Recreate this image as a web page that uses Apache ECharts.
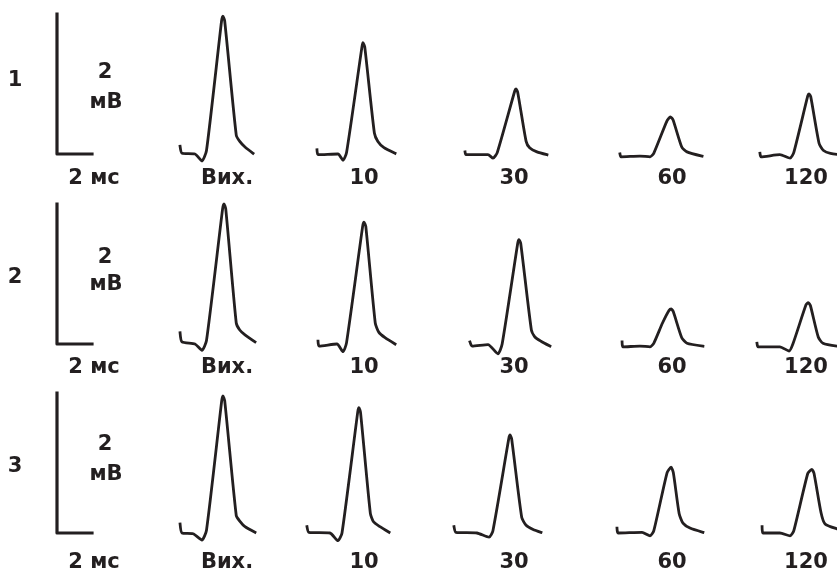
<!DOCTYPE html>
<html>
<head>
<meta charset="utf-8">
<script src="https://cdn.jsdelivr.net/npm/echarts@6/dist/echarts.min.js"></script>
<style>
  html, body { margin: 0; padding: 0; background: #fff; }
  #main { width: 837px; height: 573px; }
</style>
</head>
<body>
<div id="main"></div>
<script>
// підписи
var rowNames = ['1', '2', '3'];
var colNames = ['Вих.', '10', '30', '60', '120'];
var scaleV = '2';      // мВ
var scaleT = '2 мс';

// калібровка: 2 мс по горизонталі, 2 мВ по вертикалі  [мс, мВ]
var scaleBar = [[0, 2], [0, 0], [2, 0]];

// записи потенціалів, [час мс, амплітуда мВ]
// серія 1
var r1_vyh = [[0.29,0.11],[0.4,0.01],[1.14,0],[1.54,-0.1],[1.8,0.05],[2.66,1.9],[2.74,1.97],[2.84,1.9],[3.5,0.27],[3.7,0.18],[4.0,0.1],[4.46,0.01]];
var r1_10  = [[0.97,0.06],[1.03,-0.01],[2.17,0],[2.46,-0.09],[2.66,0.02],[3.54,1.53],[3.6,1.59],[3.7,1.53],[4.25,0.3],[4.45,0.18],[4.8,0.09],[5.43,0.01]];
var r1_30  = [[0.86,0.03],[0.91,-0.01],[2.17,-0.01],[2.46,-0.06],[2.7,0.02],[3.7,0.9],[3.77,0.93],[3.87,0.88],[4.35,0.18],[4.55,0.09],[4.97,0.03],[5.54,-0.01]];
var r1_60  = [[0.57,0],[0.63,-0.04],[1.71,-0.03],[2.29,-0.04],[2.5,0.01],[3.25,0.47],[3.45,0.53],[3.6,0.49],[4.1,0.1],[4.4,0.03],[5.26,-0.03]];
var r1_120 = [[0.57,0.01],[0.63,-0.04],[1.71,-0.01],[2.29,-0.06],[2.5,0.02],[3.3,0.83],[3.37,0.86],[3.47,0.82],[3.95,0.15],[4.2,0.05],[4.6,0.01],[5.71,-0.03]];
// серія 2
var r2_vyh = [[0.29,0.16],[0.4,0.03],[1.14,0],[1.54,-0.09],[1.8,0.05],[2.72,1.93],[2.8,2.0],[2.9,1.93],[3.5,0.3],[3.7,0.2],[4.0,0.13],[4.57,0.03]];
var r2_10  = [[1.03,0.04],[1.09,-0.03],[2.11,0],[2.46,-0.11],[2.66,0.02],[3.58,1.68],[3.66,1.74],[3.76,1.68],[4.3,0.3],[4.5,0.17],[4.86,0.09],[5.43,0]];
var r2_30  = [[1.14,0.03],[1.26,-0.03],[2.17,-0.01],[2.74,-0.14],[2.98,0],[3.87,1.44],[3.94,1.49],[4.04,1.44],[4.65,0.2],[4.85,0.1],[5.2,0.04],[5.71,-0.03]];
var r2_60  = [[0.69,0.03],[0.74,-0.04],[1.71,-0.03],[2.29,-0.04],[2.5,0.01],[3.0,0.3],[3.37,0.48],[3.5,0.5],[3.62,0.46],[4.1,0.09],[4.4,0.01],[5.31,-0.03]];
var r2_120 = [[0.4,0.01],[0.46,-0.04],[1.71,-0.04],[2.23,-0.1],[2.45,0],[3.2,0.56],[3.33,0.59],[3.45,0.55],[3.9,0.1],[4.17,0.01],[4.97,-0.03],[5.71,-0.04]];
// серія 3
var r3_vyh = [[0.29,0.13],[0.4,0],[1.03,-0.01],[1.54,-0.1],[1.8,0.04],[2.67,1.89],[2.74,1.96],[2.84,1.89],[3.5,0.25],[3.7,0.17],[4.0,0.09],[4.57,0.01]];
var r3_10  = [[0.4,0.09],[0.51,0.01],[1.71,0],[2.17,-0.11],[2.4,0],[3.3,1.73],[3.37,1.79],[3.46,1.72],[4.02,0.28],[4.2,0.16],[4.57,0.09],[5.09,0.01]];
var r3_30  = [[0.23,0.09],[0.34,0.01],[1.54,0],[2.23,-0.06],[2.45,0.03],[3.36,1.35],[3.43,1.4],[3.52,1.35],[4.1,0.22],[4.35,0.11],[4.75,0.05],[5.2,0.01]];
var r3_60  = [[0.4,0.07],[0.46,0],[1.83,0.01],[2.29,-0.04],[2.5,0.03],[3.26,0.86],[3.49,0.94],[3.62,0.86],[3.95,0.28],[4.17,0.14],[4.57,0.07],[5.31,0.01]];
var r3_120 = [[0.69,0.09],[0.74,0],[1.71,0],[2.29,-0.04],[2.5,0.03],[3.3,0.85],[3.54,0.91],[3.66,0.85],[4.06,0.29],[4.29,0.13],[4.97,0.06],[5.71,0.01]];

var traces = [
    [r1_vyh, r1_10, r1_30, r1_60, r1_120],
    [r2_vyh, r2_10, r2_30, r2_60, r2_120],
    [r3_vyh, r3_10, r3_30, r3_60, r3_120]
];

var ink = '#231f20';
var labelFont = 'bold 21px "DejaVu Sans"';
// 17.5 px на 1 мс, 70 px на 1 мВ
var tMax = 6, panelW = 105, panelH = 175;     // 0..6 мс, -0.3..2.2 мВ
var colLeft = [175, 300, 450, 610, 750];
var baseY = [154, 344, 533];
var labelY = [179, 368, 563];
var labelX = [227, 364, 514, 672, 806];

var grids = [], xAxes = [], yAxes = [], series = [], texts = [];

function addPanel(left, gridTop, data, width, smooth) {
    var i = grids.length;
    grids.push({ left: left, top: gridTop, width: panelW, height: panelH, outerBoundsMode: 'none' });
    xAxes.push({ gridIndex: i, type: 'value', min: 0, max: tMax, show: false });
    yAxes.push({ gridIndex: i, type: 'value', min: -0.3, max: 2.2, show: false });
    series.push({
        type: 'line', xAxisIndex: i, yAxisIndex: i,
        data: data.map(function (p) { return [p[0], p[1]]; }),
        showSymbol: false, symbol: 'none', smooth: smooth, clip: false,
        lineStyle: { color: ink, width: width, cap: 'square', join: 'round' },
        silent: true
    });
}

function addText(str, x, y) {
    texts.push({ type: 'text', x: x, y: y, silent: true,
        style: { text: str, font: labelFont, fill: ink, align: 'center', verticalAlign: 'middle' } });
}

for (var r = 0; r < 3; r++) {
    var gridTop = baseY[r] - 154;
    addPanel(57, gridTop, scaleBar, 3.2, false);
    for (var c = 0; c < 5; c++) {
        addPanel(colLeft[c], gridTop, traces[r][c], 2.8, 0.2);
    }
    addText(rowNames[r], 15, [81, 278, 467][r]);
    addText(scaleV, 105, [73, 258, 445][r]);
    addText('мВ', 106, [103, 285, 475][r]);
    addText(scaleT, 94, labelY[r]);
    for (var k = 0; k < 5; k++) addText(colNames[k], labelX[k], labelY[r]);
}

var myChart = echarts.init(document.getElementById('main'));
var option = {
    backgroundColor: '#fff',
    animation: false,
    grid: grids,
    xAxis: xAxes,
    yAxis: yAxes,
    series: series,
    graphic: { elements: texts }
};
myChart.setOption(option);
</script>
</body>
</html>
